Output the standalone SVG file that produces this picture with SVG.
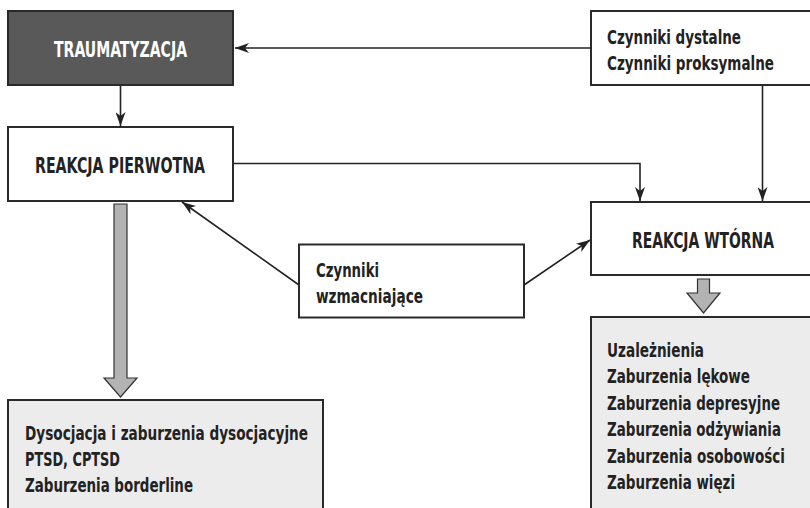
<svg xmlns="http://www.w3.org/2000/svg" width="810" height="508" viewBox="0 0 810 508">
<style>
.box{fill:#fff;stroke:#2a2a2a;stroke-width:2}
.dark{fill:#595959;stroke:#2a2a2a;stroke-width:2}
.fw{fill:#fff;stroke:none}
.fl{fill:#ececec;stroke:none}
.edge{fill:none;stroke:#2a2a2a;stroke-width:2}
.t{font-family:"DejaVu Sans Condensed","DejaVu Sans",sans-serif;font-weight:bold;fill:#222}
.h{font-size:21px;text-anchor:middle}
.i{font-size:19.5px}
.w{fill:#fff}
.ln{fill:none;stroke:#222;stroke-width:1.6}
.big{fill:#b3b3b3;stroke:#333;stroke-width:1.2}
</style>
<defs>
<marker id="ah" viewBox="0 0 14 10" refX="14" refY="5" markerWidth="14" markerHeight="10" markerUnits="userSpaceOnUse" orient="auto">
<path d="M0,0 L14,5 L0,10 L4,5 z" fill="#222"/>
</marker>
</defs>
<rect width="810" height="508" fill="#fff"/>
<g id="connectors">
<path class="ln" d="M590,48 L235,48" marker-end="url(#ah)"/>
<path class="ln" d="M120.5,85 L120.5,126" marker-end="url(#ah)"/>
<path class="ln" d="M233,163.5 L640,163.5 L640,201" marker-end="url(#ah)"/>
<path class="ln" d="M762.5,85 L762.5,201" marker-end="url(#ah)"/>
<path class="ln" d="M299,285 L182,202" marker-end="url(#ah)"/>
<path class="ln" d="M524,285 L590,240" marker-end="url(#ah)"/>
<polygon class="big" points="114,204 127,204 127,378 137,378 120.5,397 104,378 114,378"/>
<polygon class="big" points="697.5,279 709.5,279 709.5,293 720,293 703.5,313 687,293 697.5,293"/>
</g>
<g id="traumatyzacja">
<rect class="dark" x="8" y="11" width="225" height="74"/>
<text class="t h w" transform="translate(120.5,57) scale(0.78,1)" textLength="170.5" lengthAdjust="spacingAndGlyphs">TRAUMATYZACJA</text>
</g>
<g id="reakcja-pierwotna">
<rect class="box" x="8" y="127" width="225" height="74"/>
<text class="t h" transform="translate(120,173) scale(0.78,1)" textLength="218" lengthAdjust="spacingAndGlyphs">REAKCJA PIERWOTNA</text>
</g>
<g id="czynniki-dystalne">
<rect class="fw" x="591" y="11" width="219" height="74"/>
<path class="edge" d="M810,11 L591,11 L591,85 L810,85"/>
<text class="t i" transform="translate(607,44) scale(0.78,1)" textLength="171.8" lengthAdjust="spacingAndGlyphs">Czynniki dystalne</text>
<text class="t i" transform="translate(607,70) scale(0.78,1)" textLength="214.1" lengthAdjust="spacingAndGlyphs">Czynniki proksymalne</text>
</g>
<g id="reakcja-wtorna">
<rect class="fw" x="591" y="202" width="219" height="73"/>
<path class="edge" d="M810,202 L591,202 L591,275 L810,275"/>
<text class="t h" transform="translate(703,248) scale(0.78,1)" textLength="182" lengthAdjust="spacingAndGlyphs">REAKCJA WTÓRNA</text>
</g>
<g id="czynniki-wzmacniajace">
<rect class="box" x="299" y="244.5" width="225" height="73"/>
<text class="t i" transform="translate(316,277) scale(0.78,1)" textLength="80.8" lengthAdjust="spacingAndGlyphs">Czynniki</text>
<text class="t i" transform="translate(316,303) scale(0.78,1)" textLength="137.2" lengthAdjust="spacingAndGlyphs">wzmacniające</text>
</g>
<g id="zaburzenia-pierwotne">
<rect class="fl" x="8" y="400" width="315" height="108"/>
<path class="edge" d="M8,508 L8,400 L323,400 L323,508"/>
<text class="t i" transform="translate(25,439.5) scale(0.78,1)" textLength="362.8" lengthAdjust="spacingAndGlyphs">Dysocjacja i zaburzenia dysocjacyjne</text>
<text class="t i" transform="translate(25,465.5) scale(0.78,1)" textLength="121.8" lengthAdjust="spacingAndGlyphs">PTSD, CPTSD</text>
<text class="t i" transform="translate(25,491.5) scale(0.78,1)" textLength="215.4" lengthAdjust="spacingAndGlyphs">Zaburzenia borderline</text>
</g>
<g id="zaburzenia-wtorne">
<rect class="fl" x="591" y="317" width="219" height="191"/>
<path class="edge" d="M591,508 L591,317 L810,317"/>
<text class="t i" transform="translate(607,356.7) scale(0.78,1)" textLength="124.4" lengthAdjust="spacingAndGlyphs">Uzależnienia</text>
<text class="t i" transform="translate(607,383.2) scale(0.78,1)" textLength="183.3" lengthAdjust="spacingAndGlyphs">Zaburzenia lękowe</text>
<text class="t i" transform="translate(607,409.7) scale(0.78,1)" textLength="221.8" lengthAdjust="spacingAndGlyphs">Zaburzenia depresyjne</text>
<text class="t i" transform="translate(607,436.2) scale(0.78,1)" textLength="223.1" lengthAdjust="spacingAndGlyphs">Zaburzenia odżywiania</text>
<text class="t i" transform="translate(607,462.7) scale(0.78,1)" textLength="228.2" lengthAdjust="spacingAndGlyphs">Zaburzenia osobowości</text>
<text class="t i" transform="translate(607,489.2) scale(0.78,1)" textLength="164.1" lengthAdjust="spacingAndGlyphs">Zaburzenia więzi</text>
</g>
</svg>
